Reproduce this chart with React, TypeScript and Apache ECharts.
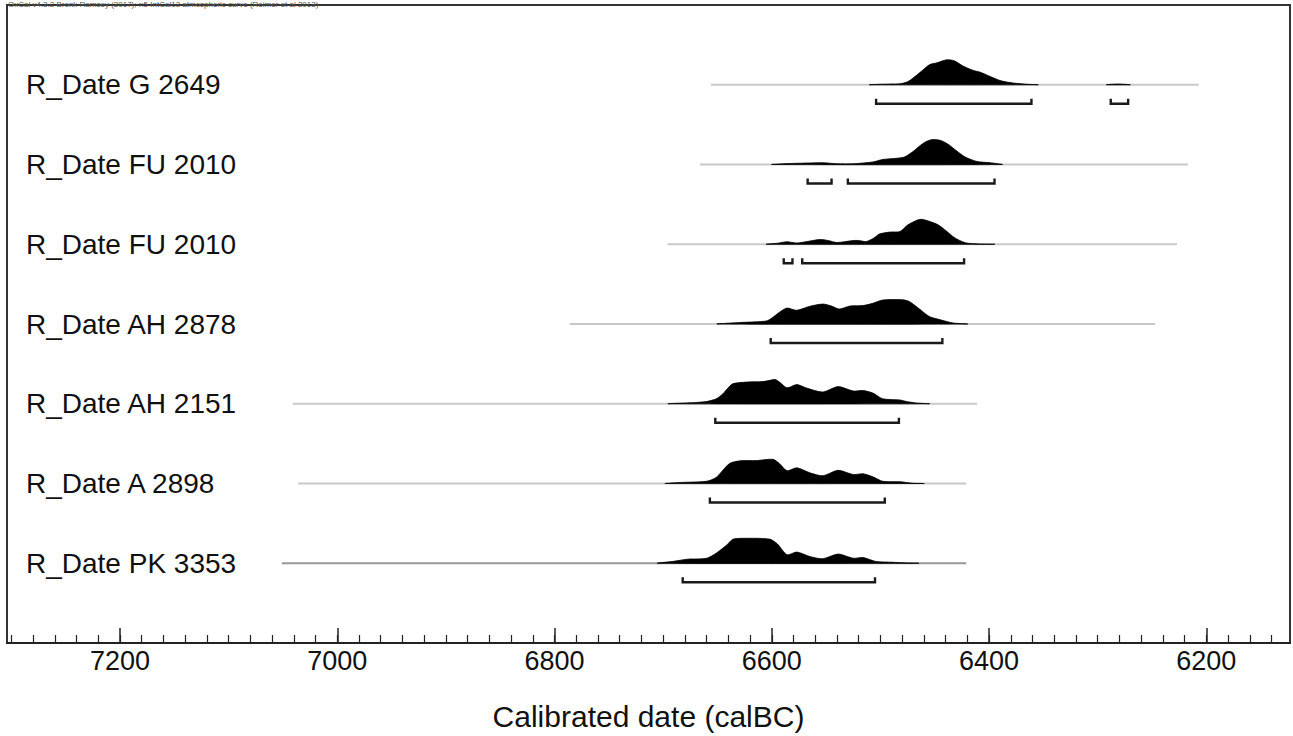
import React, { useEffect, useRef } from "react";
import * as echarts from "echarts";

const headerText = "OxCal v4.3.2 Bronk Ramsey (2017); r:5 IntCal13 atmospheric curve (Reimer et al 2013)";
const axisTitle = "Calibrated date (calBC)";

const rowLabels = [
  "R_Date G 2649",
  "R_Date FU 2010",
  "R_Date FU 2010",
  "R_Date AH 2878",
  "R_Date AH 2151",
  "R_Date A 2898",
  "R_Date PK 3353",
];

// [calBC year, relative probability]
const densG2649 = [[6510,0],[6500,0.02],[6482,0.04],[6475,0.12],[6470,0.27],[6462,0.55],[6455,0.8],[6448,0.88],[6439,1.0],[6432,0.96],[6424,0.75],[6415,0.58],[6408,0.5],[6400,0.35],[6390,0.17],[6378,0.07],[6365,0.02],[6355,0]];
const densG2649b = [[6292,0],[6282,0.03],[6270,0]];
const densFU2010a = [[6600,0],[6590,0.03],[6575,0.05],[6553,0.07],[6540,0.03],[6525,0.03],[6507,0.1],[6498,0.2],[6485,0.25],[6478,0.3],[6470,0.52],[6464,0.74],[6458,0.92],[6452,1.0],[6445,0.97],[6438,0.82],[6430,0.55],[6422,0.3],[6411,0.12],[6399,0.07],[6388,0]];
const densFU2010b = [[6605,0],[6595,0.04],[6586,0.1],[6577,0.05],[6566,0.12],[6556,0.19],[6548,0.15],[6540,0.07],[6525,0.15],[6520,0.15],[6513,0.11],[6506,0.25],[6501,0.41],[6491,0.49],[6482,0.51],[6475,0.77],[6466,0.97],[6462,1.0],[6455,0.92],[6447,0.78],[6439,0.52],[6432,0.27],[6422,0.06],[6409,0.01],[6395,0]];
const densAH2878 = [[6650,0],[6629,0.06],[6605,0.12],[6599,0.27],[6592,0.5],[6586,0.64],[6577,0.55],[6565,0.71],[6553,0.8],[6545,0.72],[6538,0.6],[6528,0.72],[6516,0.74],[6507,0.83],[6498,0.96],[6479,0.97],[6473,0.89],[6464,0.6],[6455,0.3],[6445,0.17],[6433,0.04],[6420,0]];
const densAH2151 = [[6695,0],[6670,0.05],[6660,0.09],[6651,0.2],[6645,0.4],[6641,0.6],[6636,0.8],[6623,0.87],[6608,0.89],[6597,0.97],[6593,0.87],[6586,0.64],[6577,0.77],[6568,0.63],[6553,0.47],[6539,0.69],[6525,0.51],[6516,0.53],[6507,0.43],[6498,0.2],[6482,0.15],[6476,0.09],[6467,0.03],[6455,0]];
const densA2898 = [[6698,0],[6685,0.04],[6660,0.09],[6651,0.25],[6639,0.8],[6629,0.91],[6614,0.92],[6599,0.97],[6593,0.8],[6586,0.51],[6577,0.63],[6565,0.43],[6553,0.31],[6539,0.53],[6525,0.36],[6516,0.39],[6507,0.27],[6498,0.09],[6482,0.07],[6470,0.01],[6460,0]];
const densPK3353 = [[6705,0],[6690,0.08],[6678,0.16],[6660,0.2],[6651,0.41],[6641,0.75],[6636,0.96],[6628,1.0],[6602,0.97],[6595,0.78],[6586,0.34],[6577,0.45],[6565,0.27],[6553,0.18],[6539,0.37],[6525,0.2],[6516,0.23],[6504,0.07],[6489,0.04],[6476,0.01],[6465,0]];

const densities = [[densG2649, densG2649b], [densFU2010a], [densFU2010b], [densAH2878], [densAH2151], [densA2898], [densPK3353]];

// calibration range (thin grey line) [from, to]
const lineRanges = [[6656,6207],[6666,6217],[6696,6227],[6786,6247],[7041,6411],[7036,6421],[7051,6421]];

// 95.4% ranges (brackets)
const brackets = [
  [[6504,6361],[6288,6272]],
  [[6567,6545],[6530,6395]],
  [[6589,6581],[6572,6423]],
  [[6601,6443]],
  [[6652,6483]],
  [[6657,6496]],
  [[6682,6505]],
];

const majorTicks = [7200, 7000, 6800, 6600, 6400, 6200];
const minorTicks: number[] = [7300,7280,7260,7240,7220,7200,7180,7160,7140,7120,7100,7080,7060,7040,7020,7000,6980,6960,6940,6920,6900,6880,6860,6840,6820,6800,6780,6760,6740,6720,6700,6680,6660,6640,6620,6600,6580,6560,6540,6520,6500,6480,6460,6440,6420,6400,6380,6360,6340,6320,6300,6280,6260,6240,6220,6200,6180,6160,6140];

const FONT = "'Liberation Sans', Arial, Helvetica, sans-serif";

export default function App() {
  const ref = useRef<HTMLDivElement>(null);
  useEffect(() => {
    if (!ref.current) return;
    const chart = echarts.init(ref.current, null, { renderer: "svg" });
    const PEAK = 25 / 80;
    const BR = 19 / 80;
    const BT = 5 / 80;
    const baseOf = (i: number) => 7 - i;

    const option: any = {
      animation: false,
      backgroundColor: "#fff",
      grid: { left: 7, right: 3, top: 5, bottom: 91, show: true, borderColor: "#333", borderWidth: 2, backgroundColor: "transparent" },
      xAxis: [
        {
          type: "value", inverse: true, min: 6123, max: 7304, position: "bottom",
          axisLine: { show: true, lineStyle: { color: "#222", width: 2 } },
          axisTick: { show: true, inside: true, length: 15, lineStyle: { color: "#222", width: 1.5 }, customValues: majorTicks },
          axisLabel: { show: true, customValues: majorTicks, fontSize: 27, color: "#111", margin: 4, fontFamily: FONT, formatter: (v: number) => String(v) },
          splitLine: { show: false },
          name: axisTitle, nameLocation: "middle", nameGap: 58,
          nameTextStyle: { fontSize: 30, color: "#111", fontFamily: FONT },
        },
        {
          type: "value", inverse: true, min: 6123, max: 7304, position: "bottom",
          axisLine: { show: false },
          axisTick: { show: true, inside: true, length: 8, lineStyle: { color: "#222", width: 1.2 }, customValues: minorTicks },
          axisLabel: { show: false },
          splitLine: { show: false },
        },
      ],
      yAxis: { type: "value", min: 0, max: 8, show: false },
      graphic: [
        { type: "text", left: 8, top: 0, z: 10, style: { text: headerText, fontSize: 8, fill: "#555", fontFamily: FONT } },
      ],
      series: [
        {
          type: "custom",
          xAxisIndex: 0,
          yAxisIndex: 0,
          clip: false,
          data: rowLabels.map((_, i) => [lineRanges[i][0], baseOf(i)]),
          renderItem: (params: any, api: any) => {
            const i = params.dataIndex;
            const base = baseOf(i);
            const children: any[] = [];
            const l0 = api.coord([lineRanges[i][0], base]);
            const l1 = api.coord([lineRanges[i][1], base]);
            children.push({
              type: "line",
              shape: { x1: l0[0], y1: l0[1], x2: l1[0], y2: l1[1] },
              style: { stroke: i === 6 ? "#999" : "#c8c8c8", lineWidth: 2 },
            });
            densities[i].forEach((d) => {
              const pts = d.map(([yr, h]) => api.coord([yr, base + h * PEAK]));
              children.push({
                type: "polygon",
                shape: { points: pts, smooth: 0.25 },
                style: { fill: "#000", stroke: "#000", lineWidth: 0.8 },
              });
            });
            brackets[i].forEach(([a, b]) => {
              const p0 = api.coord([a, base - BR + BT]);
              const p1 = api.coord([a, base - BR]);
              const p2 = api.coord([b, base - BR]);
              const p3 = api.coord([b, base - BR + BT]);
              children.push({
                type: "polyline",
                shape: { points: [p0, p1, p2, p3] },
                style: { stroke: "#1a1a1a", lineWidth: 2.4, fill: null },
              });
            });
            children.push({
              type: "text",
              x: 26,
              y: l0[1],
              style: { text: rowLabels[i], fontSize: 28, fill: "#111", fontFamily: FONT, verticalAlign: "middle", align: "left" },
            });
            return { type: "group", children };
          },
        },
      ],
    };
    chart.setOption(option);
    return () => chart.dispose();
  }, []);
  return <div ref={ref} style={{ position: "absolute", left: 0, top: 0, width: 1293, height: 736 }} />;
}
